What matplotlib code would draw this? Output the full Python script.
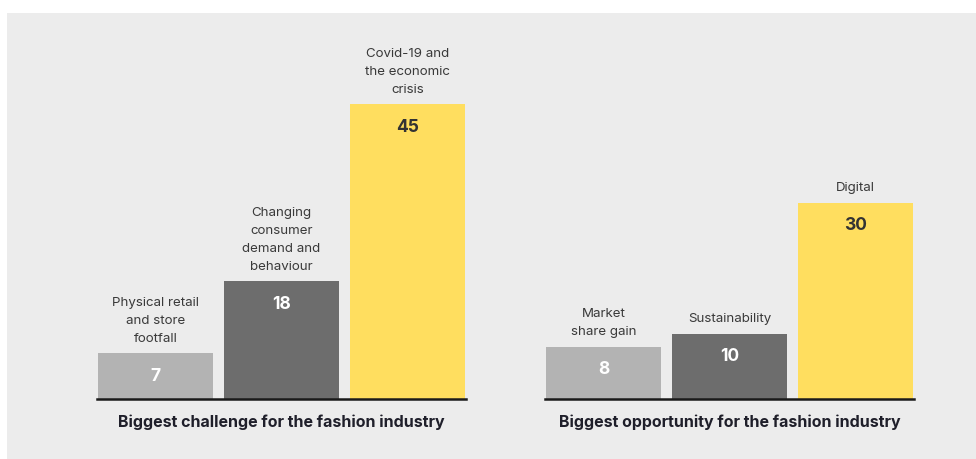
import matplotlib.pyplot as plt
from matplotlib.patches import Rectangle

plt.rcParams["font.family"] = ["Inter", "DejaVu Sans"]

# datos
challenge_labels = ["Physical retail\nand store\nfootfall",
                    "Changing\nconsumer\ndemand and\nbehaviour",
                    "Covid-19 and\nthe economic\ncrisis"]
challenge_values = [7, 18, 45]
opportunity_labels = ["Market\nshare gain", "Sustainability", "Digital"]
opportunity_values = [8, 10, 30]
titles = ["Biggest challenge for the fashion industry",
          "Biggest opportunity for the fashion industry"]

colors = ["#b3b3b3", "#6d6d6d", "#ffde5f"]
value_colors = ["white", "white", "#333333"]

W, H = 976, 459
fig = plt.figure(figsize=(W / 100, H / 100), dpi=100)
fig.patch.set_facecolor("white")
# panel gris de fondo
fig.patches.append(Rectangle((7 / W, 0), 1, (H - 13) / H, transform=fig.transFigure,
                             facecolor="#ececec", edgecolor="none", zorder=-10))

px_per_unit = 6.55
ax_bottom = H - 399
ax_height = 386


def draw_panel(left_px, labels, values, title):
    ax = fig.add_axes([left_px / W, ax_bottom / H, 369 / W, ax_height / H])
    ax.set_facecolor("none")
    ax.set_zorder(5)
    x = range(len(values))
    ax.bar(x, values, width=0.92, color=colors, zorder=2)
    ax.set_xlim(-0.465, 2.465)
    ax.set_ylim(0, ax_height / px_per_unit)
    for i, (lab, v) in enumerate(zip(labels, values)):
        ax.annotate(lab, (i, v), xytext=(0, 6), textcoords="offset points",
                    ha="center", va="bottom", fontsize=9.6, color="#3a3a3a",
                    linespacing=1.66)
        ax.annotate(str(v), (i, v), xytext=(0, -16.5), textcoords="offset points",
                    ha="center", va="center", fontsize=12.5, fontweight="bold",
                    color=value_colors[i])
    for s in ["top", "left", "right"]:
        ax.spines[s].set_visible(False)
    ax.spines["bottom"].set_color("#1a1a1a")
    ax.spines["bottom"].set_linewidth(1.8)
    ax.set_yticks([])
    ax.set_xticks([])
    ax.set_xlabel(title, fontsize=11.5, fontweight="bold", color="#1f1f2a", labelpad=11)
    return ax


draw_panel(97, challenge_labels, challenge_values, titles[0])
draw_panel(545, opportunity_labels, opportunity_values, titles[1])

plt.savefig("out.png", dpi=100)
